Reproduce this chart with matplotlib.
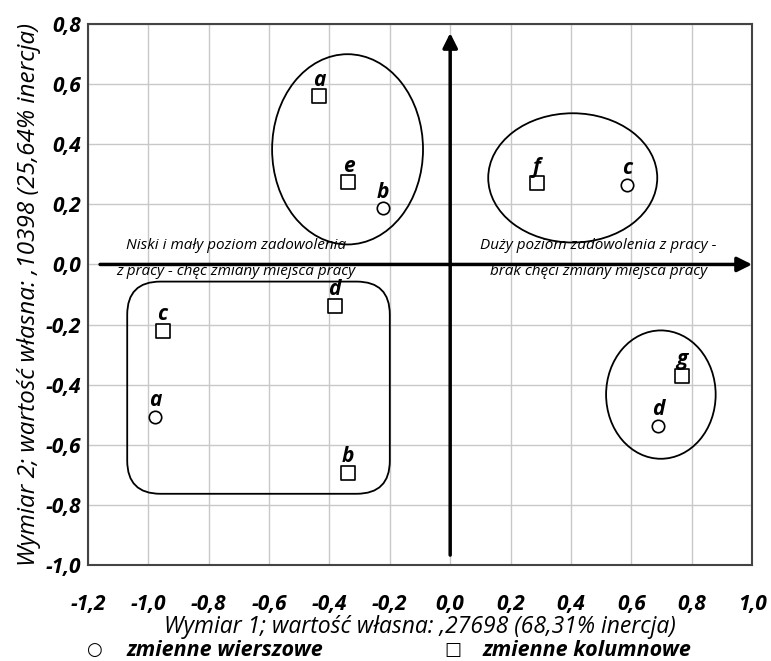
import matplotlib
matplotlib.use("Agg")
import matplotlib.pyplot as plt
from matplotlib.patches import Ellipse, FancyBboxPatch

plt.rcParams['font.family'] = ['Open Sans', 'DejaVu Sans']

# row variables (circles)
row_labels = ['a', 'b', 'c', 'd']
row_x = [-0.977, -0.223, 0.585, 0.69]
row_y = [-0.507, 0.187, 0.265, -0.537]

# column variables (squares)
col_labels = ['a', 'b', 'c', 'd', 'e', 'f', 'g']
col_x = [-0.433, -0.34, -0.953, -0.383, -0.337, 0.286, 0.767]
col_y = [0.56, -0.693, -0.22, -0.137, 0.273, 0.27, -0.37]

x_ticks = [-1.2, -1.0, -0.8, -0.6, -0.4, -0.2, 0.0, 0.2, 0.4, 0.6, 0.8, 1.0]
y_ticks = [0.8, 0.6, 0.4, 0.2, 0.0, -0.2, -0.4, -0.6, -0.8, -1.0]

fig = plt.figure(figsize=(7.71, 6.61), dpi=100)
ax = fig.add_axes([0.1141, 0.1452, 0.8613, 0.8185])

ax.set_xlim(-1.2, 1.0)
ax.set_ylim(-1.0, 0.8)
ax.set_xticks(x_ticks)
ax.set_yticks(y_ticks)
ax.set_xticklabels([f"{v:.1f}".replace('.', ',') for v in x_ticks],
                   fontsize=15, fontweight='bold', fontstyle='italic')
ax.set_yticklabels([f"{v:.1f}".replace('.', ',') for v in y_ticks],
                   fontsize=15, fontweight='bold', fontstyle='italic')
ax.tick_params(length=0)
ax.tick_params(axis='x', pad=21)
ax.tick_params(axis='y', pad=5)
ax.grid(True, color='#c8c8c8', lw=1)
ax.set_axisbelow(True)
for s in ax.spines.values():
    s.set_color('#444444')
    s.set_linewidth(1.5)

# axis arrows
ax.annotate('', xy=(1.0, 0), xytext=(-1.16, 0),
            arrowprops=dict(arrowstyle='-|>', lw=2.5, color='black', mutation_scale=22, shrinkA=0, shrinkB=0))
ax.annotate('', xy=(0, 0.77), xytext=(0, -0.967),
            arrowprops=dict(arrowstyle='-|>', lw=2.5, color='black', mutation_scale=22, shrinkA=0, shrinkB=0))

# groups
ax.add_patch(Ellipse((-0.34, 0.383), 0.5, 0.633, fill=False, lw=1.3, ec='black'))
ax.add_patch(Ellipse((0.406, 0.288), 0.56, 0.43, fill=False, lw=1.3, ec='black'))
ax.add_patch(Ellipse((0.698, -0.433), 0.363, 0.427, fill=False, lw=1.3, ec='black'))
ax.add_patch(FancyBboxPatch((-1.07, -0.763), 0.87, 0.706,
                            boxstyle='round,pad=0,rounding_size=0.11',
                            fill=False, lw=1.3, ec='black'))

# quadrant descriptions
qfont = dict(fontsize=11, fontstyle='italic', ha='center', va='center')
ax.text(-0.71, 0.064, "Niski i mały poziom zadowolenia", **qfont)
ax.text(-0.71, -0.024, "z pracy - chęć zmiany miejsca pracy", **qfont)
ax.text(0.49, 0.064, "Duży poziom zadowolenia z pracy -", **qfont)
ax.text(0.49, -0.024, "brak chęci zmiany miejsca pracy", **qfont)

# points
ax.scatter(row_x, row_y, marker='o', s=80, facecolors='white', edgecolors='black', lw=1.2, zorder=3)
ax.scatter(col_x, col_y, marker='s', s=90, facecolors='white', edgecolors='black', lw=1.2, zorder=3)
for lab, x, y in zip(row_labels, row_x, row_y):
    ax.annotate(lab, (x, y), xytext=(0, 4), textcoords='offset points', ha='center', va='bottom',
                fontsize=15, fontweight='bold', fontstyle='italic')
for lab, x, y in zip(col_labels, col_x, col_y):
    ax.annotate(lab, (x, y), xytext=(0, 4), textcoords='offset points', ha='center', va='bottom',
                fontsize=15, fontweight='bold', fontstyle='italic')

ax.set_xlabel("Wymiar 1; wartość własna: ,27698 (68,31% inercja)", fontsize=16.5, fontstyle='italic', labelpad=0)
ax.set_ylabel("Wymiar 2; wartość własna: ,10398 (25,64% inercja)", fontsize=17.5, fontstyle='italic', labelpad=3)

# legend below the chart
fig.text(94 / 771, 1 - 650 / 661, '○', fontsize=13, ha='center', va='center', family='DejaVu Sans')
fig.text(127 / 771, 1 - 650 / 661, 'zmienne wierszowe', fontsize=15.5, fontweight='bold', fontstyle='italic', va='center')
fig.text(453 / 771, 1 - 650 / 661, '□', fontsize=13, ha='center', va='center', family='DejaVu Sans')
fig.text(482 / 771, 1 - 650 / 661, 'zmienne kolumnowe', fontsize=15.5, fontweight='bold', fontstyle='italic', va='center')

fig.savefig('out.png', dpi=100)
